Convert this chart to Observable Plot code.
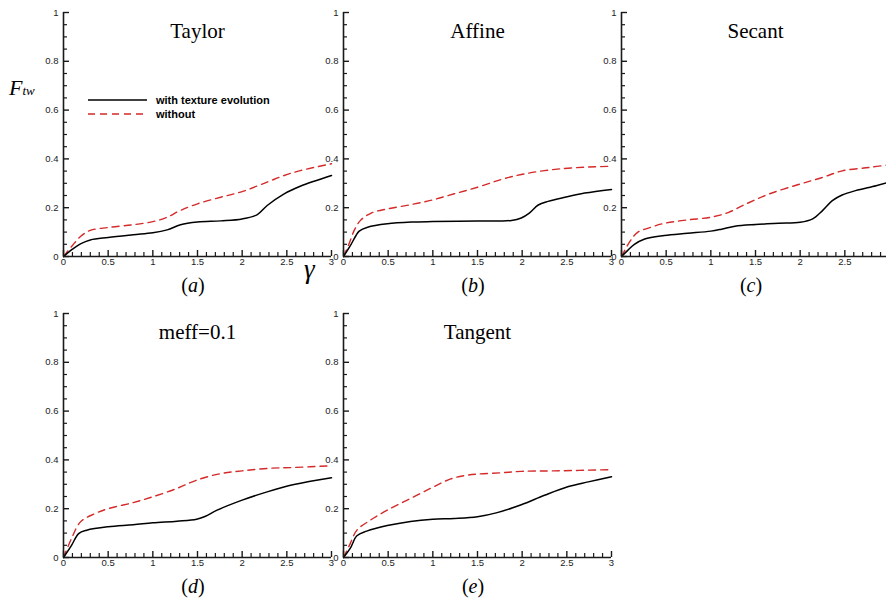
<!DOCTYPE html>
<html><head><meta charset="utf-8">
<script src="https://cdn.jsdelivr.net/npm/d3@7"></script>
<script src="https://cdn.jsdelivr.net/npm/@observablehq/plot@0.6"></script>
<style>
html,body{margin:0;padding:0;background:#fff;overflow:hidden;}
#root{position:relative;width:886px;height:604px;overflow:hidden;background:#fff;}
.panel{position:absolute;}
.lab{position:absolute;font-family:"Liberation Serif",serif;color:#000;white-space:nowrap;line-height:1;}
.legend{position:absolute;font-family:"Liberation Sans",Arial,sans-serif;font-weight:bold;font-size:11px;color:#000;}
.legend .row{display:flex;align-items:center;height:14px;}
.legend svg{margin-right:9px;}
</style></head><body><div id="root"></div>
<script>
// ---- tick values ----
const gammaMajor = [0, 0.5, 1, 1.5, 2, 2.5, 3];
const gammaMinor = [0.1,0.2,0.3,0.4,0.6,0.7,0.8,0.9,1.1,1.2,1.3,1.4,1.6,1.7,1.8,1.9,2.1,2.2,2.3,2.4,2.6,2.7,2.8,2.9];
const fMajor = [0, 0.2, 0.4, 0.6, 0.8, 1];
const fMinor = [0.05,0.1,0.15,0.25,0.3,0.35,0.45,0.5,0.55,0.65,0.7,0.75,0.85,0.9,0.95];

// ---- series: [gamma, F_tw] ----
const taylorWith = [[0,0],[0.1,0.03],[0.19,0.052],[0.3,0.068],[0.5,0.078],[0.78,0.089],[1.0,0.097],[1.16,0.109],[1.31,0.13],[1.5,0.141],[1.76,0.146],[2.0,0.154],[2.17,0.172],[2.28,0.209],[2.47,0.257],[2.65,0.288],[3.0,0.332]];
const taylorWithout = [[0,0],[0.1,0.045],[0.19,0.082],[0.3,0.107],[0.5,0.119],[0.78,0.13],[1.0,0.143],[1.16,0.161],[1.31,0.189],[1.5,0.216],[1.76,0.243],[2.0,0.266],[2.28,0.305],[2.47,0.332],[2.65,0.352],[3.0,0.38]];
const affineWith = [[0,0],[0.07,0.04],[0.14,0.086],[0.176,0.104],[0.27,0.12],[0.49,0.134],[0.76,0.141],[1.0,0.143],[1.5,0.145],[1.88,0.148],[1.99,0.158],[2.08,0.178],[2.18,0.211],[2.29,0.226],[2.48,0.243],[2.7,0.26],[3.0,0.275]];
const affineWithout = [[0,0],[0.06,0.05],[0.12,0.107],[0.19,0.148],[0.31,0.178],[0.49,0.195],[0.76,0.213],[1.0,0.232],[1.24,0.257],[1.5,0.284],[1.77,0.316],[1.99,0.336],[2.25,0.352],[2.55,0.363],[3.0,0.37]];
const secantWith = [[0,0],[0.07,0.025],[0.14,0.049],[0.26,0.072],[0.48,0.086],[0.74,0.095],[1.0,0.104],[1.12,0.112],[1.27,0.124],[1.5,0.131],[1.76,0.136],[2.0,0.14],[2.14,0.154],[2.25,0.188],[2.36,0.229],[2.47,0.252],[2.62,0.27],[2.85,0.29],[3.0,0.305]];
const secantWithout = [[0,0],[0.1,0.065],[0.18,0.099],[0.33,0.12],[0.48,0.136],[0.74,0.15],[1.0,0.161],[1.2,0.181],[1.38,0.213],[1.65,0.256],[2.0,0.297],[2.25,0.324],[2.47,0.351],[2.77,0.365],[3.0,0.376]];
const meffWith = [[0,0],[0.09,0.05],[0.17,0.098],[0.26,0.112],[0.5,0.126],[0.78,0.134],[1.0,0.142],[1.27,0.149],[1.49,0.157],[1.59,0.169],[1.72,0.194],[2.0,0.235],[2.28,0.269],[2.58,0.299],[3.0,0.327]];
const meffWithout = [[0,0],[0.09,0.078],[0.19,0.146],[0.34,0.178],[0.5,0.2],[0.78,0.225],[1.0,0.249],[1.27,0.283],[1.49,0.317],[1.76,0.344],[2.0,0.355],[2.28,0.365],[2.58,0.369],[3.0,0.376]];
const tangentWith = [[0,0],[0.075,0.037],[0.15,0.089],[0.26,0.108],[0.49,0.131],[0.75,0.148],[1.0,0.157],[1.24,0.16],[1.5,0.167],[1.72,0.184],[1.99,0.216],[2.25,0.255],[2.51,0.29],[2.74,0.31],[3.0,0.331]];
const tangentWithout = [[0,0],[0.075,0.057],[0.15,0.112],[0.3,0.153],[0.49,0.194],[0.75,0.242],[1.0,0.288],[1.2,0.322],[1.36,0.336],[1.5,0.342],[1.76,0.347],[1.99,0.353],[2.36,0.355],[3.0,0.36]];

const titles = ["Taylor", "Affine", "Secant", "meff=0.1", "Tangent"];
const letters = ["a", "b", "c", "d", "e"];
const seriesNames = ["with texture evolution", "without"];

const panels = [
  {title: titles[0], letter: letters[0], w: taylorWith, wo: taylorWithout, left: 63, top: 12},
  {title: titles[1], letter: letters[1], w: affineWith, wo: affineWithout, left: 343, top: 12},
  {title: titles[2], letter: letters[2], w: secantWith, wo: secantWithout, left: 621, top: 12},
  {title: titles[3], letter: letters[3], w: meffWith, wo: meffWithout, left: 63, top: 313},
  {title: titles[4], letter: letters[4], w: tangentWith, wo: tangentWithout, left: 343, top: 313}
];

const FW = 268, FH = 244, ML = 63, MT = 12, MR = 9, MB = 44;
const axisColor = "#1a1a1a";
const tickFont = {fontSize: 9.5, fontFamily: "Liberation Sans, Arial, sans-serif", fill: "#222"};
const root = document.getElementById("root");

for (const p of panels) {
  const chart = Plot.plot({
    width: ML + FW + MR,
    height: MT + FH + MB,
    marginLeft: ML, marginTop: MT, marginRight: MR, marginBottom: MB,
    style: {background: "none", overflow: "visible"},
    x: {domain: [0, 3]},
    y: {domain: [0, 1]},
    marks: [
      Plot.line(p.wo, {x: d => d[0], y: d => d[1], stroke: "#d42a2a", strokeWidth: 1.4, strokeDasharray: "7,5", curve: "catmull-rom"}),
      Plot.line(p.w, {x: d => d[0], y: d => d[1], stroke: "#000", strokeWidth: 1.5, curve: "catmull-rom"}),
      Plot.tickY(fMinor, {y: d => d, insetRight: FW - 4, stroke: axisColor, strokeWidth: 1.2}),
      Plot.tickY(fMajor, {y: d => d, insetRight: FW - 6, stroke: axisColor, strokeWidth: 1.4}),
      Plot.tickX(gammaMinor, {x: d => d, insetTop: FH - 4, stroke: axisColor, strokeWidth: 1.2}),
      Plot.tickX(gammaMajor, {x: d => d, insetTop: FH - 6, stroke: axisColor, strokeWidth: 1.4}),
      Plot.ruleX([0], {stroke: axisColor, strokeWidth: 1.6}),
      Plot.ruleY([0], {stroke: axisColor, strokeWidth: 1.6}),
      Plot.axisY(fMajor, {tickSize: 0, tickPadding: 5, tickFormat: d => String(d), label: null, ...tickFont}),
      Plot.axisX(gammaMajor, {tickSize: 0, tickPadding: 2, tickFormat: d => String(d), label: null, ...tickFont}),
      Plot.text([p.title], {text: d => d, frameAnchor: "top", dy: 11, fontSize: 21, fontFamily: "Liberation Serif, serif", fill: "#000"})
    ]
  });
  chart.classList.add("panel");
  chart.style.left = (p.left - ML) + "px";
  chart.style.top = (p.top - MT) + "px";
  root.appendChild(chart);

  const lab = document.createElement("div");
  lab.className = "lab";
  lab.style.fontSize = "20px";
  lab.style.left = (p.left + FW / 2 - 4) + "px";
  lab.style.top = (p.top + FH + 19) + "px";
  lab.style.transform = "translateX(-50%)";
  lab.innerHTML = "(<i>" + p.letter + "</i>)";
  root.appendChild(lab);
}

// y-axis title F_tw
const fy = document.createElement("div");
fy.className = "lab";
fy.style.left = "9px"; fy.style.top = "77px";
fy.innerHTML = '<i style="font-size:22px">F</i><i style="font-size:13px">tw</i>';
root.appendChild(fy);

// x-axis title gamma
const gx = document.createElement("div");
gx.className = "lab";
gx.style.left = "304px"; gx.style.top = "256px";
gx.innerHTML = '<i style="font-size:27px">\u03b3</i>';
root.appendChild(gx);

// legend (panel a)
const leg = document.createElement("div");
leg.className = "legend";
leg.style.left = "88px"; leg.style.top = "93px";
leg.innerHTML =
  '<div class="row"><svg width="59" height="4"><line x1="0" y1="2" x2="59" y2="2" stroke="#000" stroke-width="1.5"/></svg>' + seriesNames[0] + '</div>' +
  '<div class="row"><svg width="59" height="4"><line x1="0" y1="2" x2="59" y2="2" stroke="#d42a2a" stroke-width="1.4" stroke-dasharray="7,5"/></svg>' + seriesNames[1] + '</div>';
root.appendChild(leg);
</script></body></html>
